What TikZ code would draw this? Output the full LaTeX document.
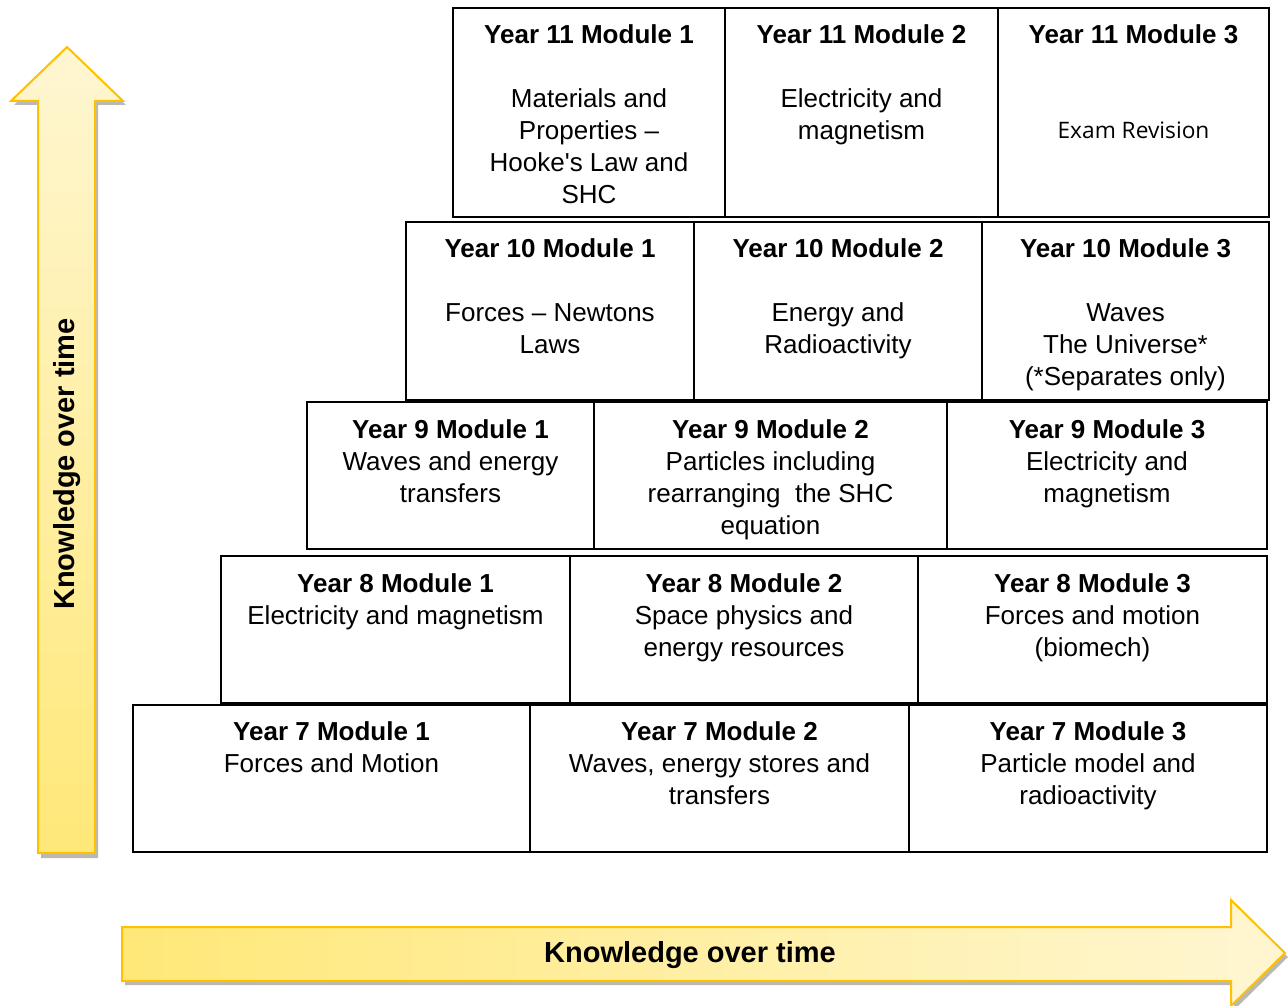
\documentclass[tikz,border=0pt]{standalone}
\usepackage{fontspec}
\setmainfont{Liberation Sans}
\newfontfamily\revfont{Open Sans}
\usetikzlibrary{fit,calc}

\definecolor{arrowline}{HTML}{FFC000}
\definecolor{arrowdeep}{HTML}{FFE878}
\definecolor{arrowpale}{HTML}{FFF6D2}

\tikzset{
  cell/.style={draw=black, line width=2.2pt, inner sep=0pt, outer sep=0pt},
  celltext/.style={anchor=north, align=center, inner sep=0pt,
                   font=\fontsize{26}{32}\selectfont},
  arrowlabel/.style={inner sep=0pt, font=\fontsize{29}{34}\selectfont\bfseries},
  arrowshadow/.style={fill=black, opacity=0.28, draw=none},
  arrowbody/.style={draw=arrowline, line width=2pt, line join=miter},
}
\newcommand\firstline{\rule{0pt}{20pt}}

\begin{document}
\begin{tikzpicture}[x=1pt, y=-1pt]
\useasboundingbox (0,0) rectangle (1288,1006);

% ---- vertical arrow ----
\fill[arrowshadow] (70,51) -- (126,105) -- (98,105) -- (98,858) -- (41,858)
  -- (41,105) -- (14,105) -- cycle;
\shade[arrowbody, top color=arrowpale, bottom color=arrowdeep]
  (67,47) -- (123,101) -- (95,101) -- (95,853) -- (38,853) -- (38,101)
  -- (11,101) -- cycle;
\node[arrowlabel, rotate=90] (vlabel) at (67,464) {Knowledge over time};

% ---- horizontal arrow ----
\fill[arrowshadow] (125,931) -- (1234,931) -- (1234,904) -- (1288,957)
  -- (1234,1010) -- (1234,985) -- (125,985) -- cycle;
\shade[arrowbody, left color=arrowdeep, right color=arrowpale]
  (122,927) -- (1231,927) -- (1231,900) -- (1285,953) -- (1231,1006)
  -- (1231,981) -- (122,981) -- cycle;
\node[arrowlabel] (hlabel) at (690,955) {Knowledge over time};

% ---- Year 11 ----
\node[cell, fit={(453,8) (725,217)}] (y11a) {};
\node[cell, fit={(725,8) (998,217)}] (y11b) {};
\node[cell, fit={(998,8) (1269,217)}] (y11c) {};
\node[celltext] (y11a-t) at ([yshift=-15.3pt]y11a.north)
  {\firstline\textbf{Year 11 Module 1}\\[32pt]Materials and\\Properties –\\Hooke\textquotesingle s Law and\\SHC};
\node[celltext] (y11b-t) at ([yshift=-15.3pt]y11b.north)
  {\firstline\textbf{Year 11 Module 2}\\[32pt]Electricity and\\magnetism};
\node[celltext] (y11c-t) at ([yshift=-15.3pt]y11c.north)
  {\firstline\textbf{Year 11 Module 3}};
\node[inner sep=0pt, font=\revfont\fontsize{22.7}{27}\selectfont] (y11c-r) at (1133.5,130) {Exam Revision};

% ---- Year 10 ----
\node[cell, fit={(406,222) (694,400)}] (y10a) {};
\node[cell, fit={(694,222) (982,400)}] (y10b) {};
\node[cell, fit={(982,222) (1269,400)}] (y10c) {};
\node[celltext] (y10a-t) at ([yshift=-15.3pt]y10a.north)
  {\firstline\textbf{Year 10 Module 1}\\[32pt]Forces – Newtons\\Laws};
\node[celltext] (y10b-t) at ([yshift=-15.3pt]y10b.north)
  {\firstline\textbf{Year 10 Module 2}\\[32pt]Energy and\\Radioactivity};
\node[celltext] (y10c-t) at ([yshift=-15.3pt]y10c.north)
  {\firstline\textbf{Year 10 Module 3}\\[32pt]Waves\\The Universe*\\(*Separates only)};

% ---- Year 9 ----
\node[cell, fit={(307,402) (594,549)}] (y9a) {};
\node[cell, fit={(594,402) (947,549)}] (y9b) {};
\node[cell, fit={(947,402) (1267,549)}] (y9c) {};
\node[celltext] (y9a-t) at ([yshift=-16pt]y9a.north)
  {\firstline\textbf{Year 9 Module 1}\\Waves and energy\\transfers};
\node[celltext] (y9b-t) at ([yshift=-16pt]y9b.north)
  {\firstline\textbf{Year 9 Module 2}\\Particles including\\rearranging~ the SHC\\equation};
\node[celltext] (y9c-t) at ([yshift=-16pt]y9c.north)
  {\firstline\textbf{Year 9 Module 3}\\Electricity and\\magnetism};

% ---- Year 8 ----
\node[cell, fit={(221,556) (570,703)}] (y8a) {};
\node[cell, fit={(570,556) (918,703)}] (y8b) {};
\node[cell, fit={(918,556) (1267,703)}] (y8c) {};
\node[celltext] (y8a-t) at ([yshift=-16pt]y8a.north)
  {\firstline\textbf{Year 8 Module 1}\\Electricity and magnetism};
\node[celltext] (y8b-t) at ([yshift=-16pt]y8b.north)
  {\firstline\textbf{Year 8 Module 2}\\Space physics and\\energy resources};
\node[celltext] (y8c-t) at ([yshift=-16pt]y8c.north)
  {\firstline\textbf{Year 8 Module 3}\\Forces and motion\\(biomech)};

% ---- Year 7 ----
\node[cell, fit={(133,705) (530,852)}] (y7a) {};
\node[cell, fit={(530,705) (909,852)}] (y7b) {};
\node[cell, fit={(909,705) (1267,852)}] (y7c) {};
\node[celltext] (y7a-t) at ([yshift=-15.3pt]y7a.north)
  {\firstline\textbf{Year 7 Module 1}\\Forces and Motion};
\node[celltext] (y7b-t) at ([yshift=-15.3pt]y7b.north)
  {\firstline\textbf{Year 7 Module 2}\\Waves, energy stores and\\transfers};
\node[celltext] (y7c-t) at ([yshift=-15.3pt]y7c.north)
  {\firstline\textbf{Year 7 Module 3}\\Particle model and\\radioactivity};
\end{tikzpicture}
\end{document}
